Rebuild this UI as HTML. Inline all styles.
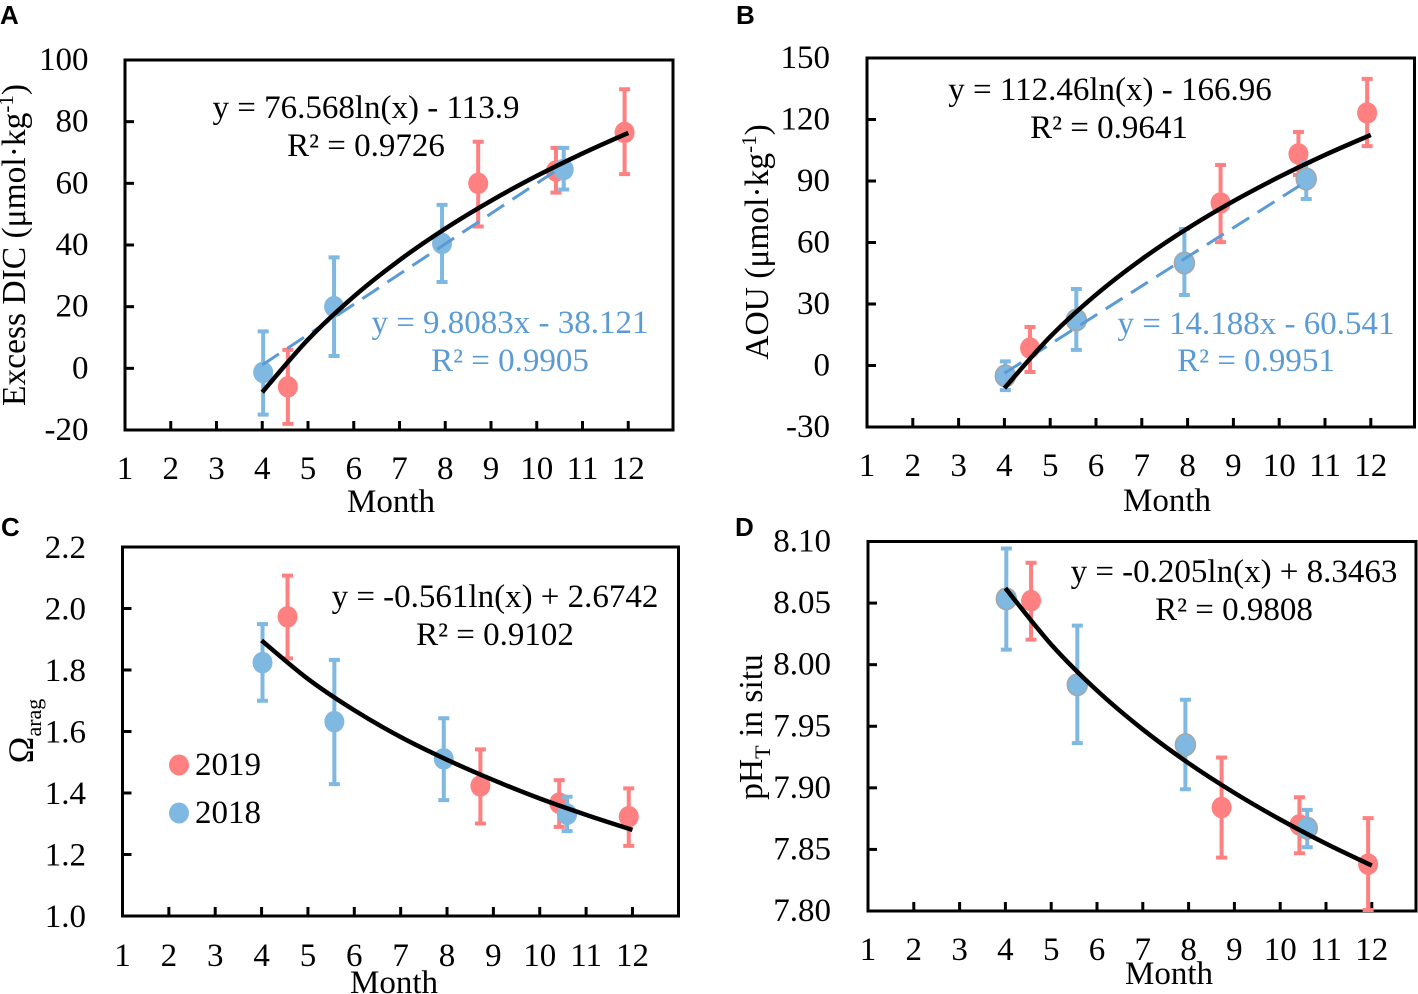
<!DOCTYPE html>
<html lang="en">
<head>
<meta charset="utf-8">
<title>Seasonal carbonate chemistry trends</title>
<style>
html,body{margin:0;padding:0;background:#fff;}
svg{display:block;}
text{font-family:"Liberation Serif",serif;font-size:33px;fill:#000;}
.tick-label{font-size:33px;}
.panel-letter{font-family:"Liberation Sans",sans-serif;font-weight:bold;font-size:26px;}
.blue-text{fill:#5B9BD5;}
</style>
</head>
<body>
<svg id="chart" xmlns="http://www.w3.org/2000/svg" width="1418" height="994" viewBox="0 0 1418 994">
  <rect x="0" y="0" width="1418" height="994" fill="#fff"/>
  <g id="panels"></g>

  <text class="panel-letter" x="0" y="24">A</text>
  <text class="panel-letter" x="736" y="24">B</text>
  <text class="panel-letter" x="1" y="536">C</text>
  <text class="panel-letter" x="735" y="536">D</text>

  <text x="391" y="512" text-anchor="middle">Month</text>
  <text x="1167" y="511" text-anchor="middle">Month</text>
  <text x="394" y="993" text-anchor="middle">Month</text>
  <text x="1169" y="984" text-anchor="middle">Month</text>

  <text font-size="33.5" style="font-size:33.5px" transform="translate(25,245) rotate(-90)" text-anchor="middle">Excess DIC (μmol·kg<tspan style="font-size:21px" dy="-12">-1</tspan><tspan dy="12">)</tspan></text>
  <text style="font-size:33.5px" transform="translate(768,242) rotate(-90)" text-anchor="middle">AOU (μmol·kg<tspan style="font-size:21px" dy="-12">-1</tspan><tspan dy="12">)</tspan></text>
  <text style="font-size:36px" transform="translate(33,731) rotate(-90)" text-anchor="middle">Ω<tspan style="font-size:22px" dy="8">arag</tspan></text>
  <text style="font-size:33.5px" transform="translate(762,727) rotate(-90)" text-anchor="middle">pH<tspan style="font-size:22px" dy="8">T</tspan><tspan dy="-8"> in situ</tspan></text>

  <text x="366" y="118" text-anchor="middle">y = 76.568ln(x) - 113.9</text>
  <text x="366" y="156" text-anchor="middle">R² = 0.9726</text>
  <text class="blue-text" x="510" y="333" text-anchor="middle">y = 9.8083x - 38.121</text>
  <text class="blue-text" x="510" y="371" text-anchor="middle">R² = 0.9905</text>

  <text x="1110" y="100" text-anchor="middle">y = 112.46ln(x) - 166.96</text>
  <text x="1109" y="138" text-anchor="middle">R² = 0.9641</text>
  <text class="blue-text" x="1256" y="334" text-anchor="middle">y = 14.188x - 60.541</text>
  <text class="blue-text" x="1256" y="371" text-anchor="middle">R² = 0.9951</text>

  <text x="495" y="607" text-anchor="middle">y = -0.561ln(x) + 2.6742</text>
  <text x="495" y="645" text-anchor="middle">R² = 0.9102</text>

  <text x="1234" y="582" text-anchor="middle">y = -0.205ln(x) + 8.3463</text>
  <text x="1234" y="620" text-anchor="middle">R² = 0.9808</text>

  <g>
    <ellipse cx="179" cy="765" rx="10" ry="10.5" fill="#FF8080"/>
    <text x="195" y="775">2019</text>
    <ellipse cx="179" cy="813" rx="10" ry="10.5" fill="#7FB8E0"/>
    <text x="195" y="823">2018</text>
  </g>
</svg>

<script>
// Shared x values (sampling month)
const months2018 = [4.02, 5.57, 7.93, 10.59];
const months2019 = [4.56, 8.72, 10.42, 11.92];
const monthTicks = [1, 2, 3, 4, 5, 6, 7, 8, 9, 10, 11, 12];
const fitMonths = [4, 5, 6, 7, 8, 9, 10, 11, 12];

// Panel A: Excess DIC
const dicTicks = [-20, 0, 20, 40, 60, 80, 100];
const dic2018 = [-1.3, 20, 40.5, 64.5];
const dicUpper2018 = [12, 36, 53, 71.5];
const dicLower2018 = [-15, 4, 28, 58];
const dic2019 = [-6, 60, 64, 76.5];
const dicUpper2019 = [6, 73.5, 71.5, 90.5];
const dicLower2019 = [-18, 46, 57, 63];
const dicFit = [-7.75, 9.33, 23.29, 35.09, 45.32, 54.34, 62.4, 69.7, 76.36];
const dicDashMonths = [4, 10.55];
const dicDash = [1.1, 65.4];

// Panel B: AOU
const aouTicks = [-30, 0, 30, 60, 90, 120, 150];
const aou2018 = [-5.1, 22.2, 50, 91];
const aouUpper2018 = [2, 37.3, 66.6, 99];
const aouLower2018 = [-12, 7.6, 34.4, 81.2];
const aou2019 = [8.5, 79.3, 103.2, 123.2];
const aouUpper2019 = [18.8, 97.8, 113.9, 139.8];
const aouLower2019 = [-3.2, 60.2, 92.9, 107];
const aouFit = [-11.06, 14.04, 34.54, 51.88, 66.9, 80.15, 91.99, 102.71, 112.49];
const aouDashMonths = [4, 10.55];
const aouDash = [-3.8, 89.2];

// Panel C: aragonite saturation
const aragTicks = ['1.0', '1.2', '1.4', '1.6', '1.8', '2.0', '2.2'];
const arag2018 = [1.824, 1.632, 1.511, 1.331];
const aragUpper2018 = [1.949, 1.833, 1.643, 1.388];
const aragLower2018 = [1.700, 1.429, 1.377, 1.276];
const arag2019 = [1.973, 1.423, 1.367, 1.323];
const aragUpper2019 = [2.107, 1.542, 1.442, 1.415];
const aragLower2019 = [1.838, 1.301, 1.29, 1.228];
const aragFit = [1.896, 1.771, 1.669, 1.582, 1.508, 1.442, 1.382, 1.329, 1.280];

// Panel D: pH
const phTicks = ['7.80', '7.85', '7.90', '7.95', '8.00', '8.05', '8.10'];
const ph2018 = [8.0534, 7.9837, 7.935, 7.8672];
const phUpper2018 = [8.0943, 8.0317, 7.9715, 7.8821];
const phLower2018 = [8.0122, 7.9363, 7.8989, 7.8518];
const ph2019 = [8.052, 7.884, 7.8699, 7.838];
const phUpper2019 = [8.0827, 7.9246, 7.8924, 7.8754];
const phLower2019 = [8.0203, 7.8433, 7.8469, 7.8008];
const phFit = [8.0621, 8.0164, 7.979, 7.9474, 7.92, 7.8959, 7.8743, 7.8547, 7.8369];

const SVGNS = 'http://www.w3.org/2000/svg';
const RED = '#FF8080';
const BLUE = '#7FB8E0';

function make(parent, tag, attrs) {
  const el = document.createElementNS(SVGNS, tag);
  for (const k in attrs) el.setAttribute(k, attrs[k]);
  parent.appendChild(el);
  return el;
}

function smoothPath(xs, ys) {
  let d = 'M' + xs[0].toFixed(2) + ' ' + ys[0].toFixed(2);
  for (let i = 0; i < xs.length - 1; i++) {
    const x0 = xs[Math.max(i - 1, 0)], y0 = ys[Math.max(i - 1, 0)];
    const x1 = xs[i], y1 = ys[i];
    const x2 = xs[i + 1], y2 = ys[i + 1];
    const x3 = xs[Math.min(i + 2, xs.length - 1)], y3 = ys[Math.min(i + 2, xs.length - 1)];
    d += ' C' + (x1 + (x2 - x0) / 6).toFixed(2) + ' ' + (y1 + (y2 - y0) / 6).toFixed(2) +
         ' ' + (x2 - (x3 - x1) / 6).toFixed(2) + ' ' + (y2 - (y3 - y1) / 6).toFixed(2) +
         ' ' + x2.toFixed(2) + ' ' + y2.toFixed(2);
  }
  return d;
}

function drawSeries(g, months, values, upper, lower, color, outline, xScale, yScale) {
  months.forEach(function (m, i) {
    const x = xScale(m);
    const bar = make(g, 'path', {
      d: 'M' + x + ' ' + yScale(upper[i]) + 'V' + yScale(lower[i]) +
         'M' + (x - 5.5) + ' ' + yScale(upper[i]) + 'H' + (x + 5.5) +
         'M' + (x - 5.5) + ' ' + yScale(lower[i]) + 'H' + (x + 5.5),
      stroke: color, 'stroke-width': 4, fill: 'none'
    });
    
    
  });
  months.forEach(function (m, i) {
    const attrs = { cx: xScale(m), cy: yScale(values[i]), rx: 10, ry: 10.8, fill: color };
    if (outline) { attrs.stroke = '#A6A6A6'; attrs['stroke-width'] = 1.5; }
    const dot = make(g, 'ellipse', attrs);
    
    
  });
}

function drawPanel(p) {
  const root = document.getElementById('panels');
  const g = make(root, 'g', {});
  
  

  const xScale = function (m) { return p.left + (m - 1) * p.step; };
  const lo = parseFloat(p.yTicks[0]);
  const hi = parseFloat(p.yTicks[p.yTicks.length - 1]);
  const yScale = function (v) { return p.bottom - (v - lo) / (hi - lo) * (p.bottom - p.top); };

  const frame = make(g, 'rect', {
    x: p.left, y: p.top, width: p.right - p.left, height: p.bottom - p.top,
    fill: 'none', stroke: '#000', 'stroke-width': 3
  });
  
  

  monthTicks.forEach(function (m) {
    const x = xScale(m);
    if (m > 1) {
      const t = make(g, 'line', { x1: x, x2: x, y1: p.bottom, y2: p.bottom - 9, stroke: '#000', 'stroke-width': 3 });
      
      
    }
    const lab = make(g, 'text', { class: 'tick-label', x: x, y: p.xLabelY, 'text-anchor': 'middle' });
    lab.textContent = m;
    
    
  });

  p.yTicks.forEach(function (v) {
    const y = yScale(parseFloat(v));
    if (parseFloat(v) !== lo && parseFloat(v) !== hi) {
      const t = make(g, 'line', { x1: p.left, x2: p.left + 9, y1: y, y2: y, stroke: '#000', 'stroke-width': 3 });
      
      
    }
    const lab = make(g, 'text', { class: 'tick-label', x: p.yLabelX, y: y + p.yLabelDy, 'text-anchor': 'end' });
    lab.textContent = v;
    
    
  });

  drawSeries(g, months2019, p.v2019, p.u2019, p.l2019, RED, false, xScale, yScale);
  drawSeries(g, months2018, p.v2018, p.u2018, p.l2018, BLUE, p.outline, xScale, yScale);

  if (p.dash) {
    const dash = make(g, 'line', {
      x1: xScale(p.dashMonths[0]), y1: yScale(p.dash[0]),
      x2: xScale(p.dashMonths[1]), y2: yScale(p.dash[1]),
      stroke: '#5B9BD5', 'stroke-width': 3, 'stroke-dasharray': '20 10'
    });
    
    
  }

  const fit = make(g, 'path', {
    d: smoothPath(fitMonths.map(xScale), p.fit.map(yScale)),
    fill: 'none', stroke: '#000', 'stroke-width': 4.5
  });
  
  
}

drawPanel({ left: 125, right: 673, top: 60, bottom: 430, step: 45.75, xLabelY: 479, yLabelX: 88.5, yLabelDy: 10,
  yTicks: dicTicks, v2018: dic2018, u2018: dicUpper2018, l2018: dicLower2018,
  v2019: dic2019, u2019: dicUpper2019, l2019: dicLower2019, fit: dicFit,
  dash: dicDash, dashMonths: dicDashMonths, outline: false });

drawPanel({ left: 867, right: 1414.5, top: 58, bottom: 427, step: 45.8, xLabelY: 476, yLabelX: 830, yLabelDy: 10,
  yTicks: aouTicks, v2018: aou2018, u2018: aouUpper2018, l2018: aouLower2018,
  v2019: aou2019, u2019: aouUpper2019, l2019: aouLower2019, fit: aouFit,
  dash: aouDash, dashMonths: aouDashMonths, outline: true });

drawPanel({ left: 122.5, right: 678.5, top: 547, bottom: 916, step: 46.36, xLabelY: 966, yLabelX: 86, yLabelDy: 11,
  yTicks: aragTicks, v2018: arag2018, u2018: aragUpper2018, l2018: aragLower2018,
  v2019: arag2019, u2019: aragUpper2019, l2019: aragLower2019, fit: aragFit, outline: false });

drawPanel({ left: 868, right: 1416, top: 541.5, bottom: 911, step: 45.8, xLabelY: 960, yLabelX: 831, yLabelDy: 10,
  yTicks: phTicks, v2018: ph2018, u2018: phUpper2018, l2018: phLower2018,
  v2019: ph2019, u2019: phUpper2019, l2019: phLower2019, fit: phFit, outline: true });
</script>
</body>
</html>
